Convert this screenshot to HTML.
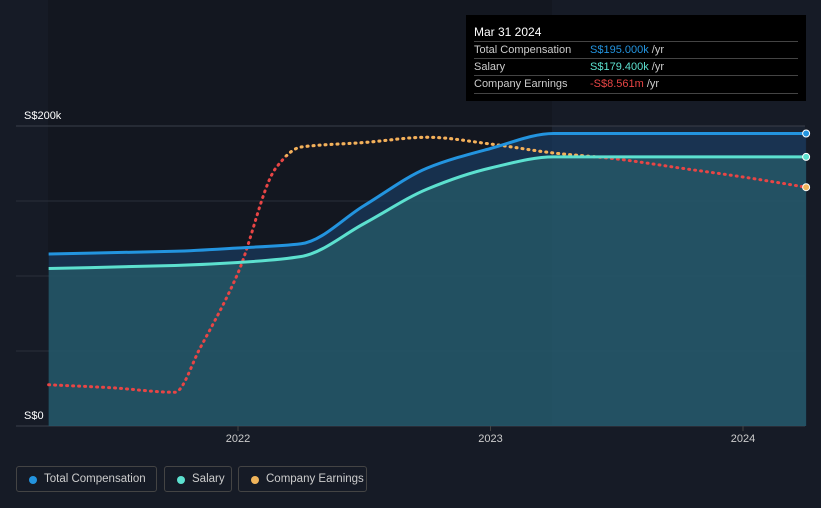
<!DOCTYPE html>
<html><head><meta charset="utf-8">
<style>
html,body{margin:0;background:#161b26;width:821px;height:508px;overflow:hidden;font-family:"Liberation Sans",sans-serif}
#tip{position:absolute;left:466px;top:15px;width:340px;height:86px;background:#000;color:#ccc;font-size:11px}
#tip .h{position:absolute;left:8px;top:10px;color:#fff;font-size:12px}
#tip .r{position:absolute;left:8px;width:324px;border-top:1px solid #444;height:17px;line-height:17px}
#tip .r span.v{position:absolute;left:116px}
.leg{position:absolute;top:466px;height:26px;border:1px solid #444;border-radius:3px;color:#ccc;font-size:11.5px;line-height:25px;box-sizing:border-box;white-space:nowrap}
.leg i{position:absolute;left:12px;top:9px;width:8px;height:8px;border-radius:50%}
.leg span{position:absolute;left:27px;white-space:nowrap}
</style></head><body>
<svg id="chart" width="821" height="508" style="position:absolute;left:0;top:0">
<rect x="48" y="0" width="504" height="426" fill="#131720"/>
<rect x="552" y="126" width="253" height="300" fill="#1a2230"/>
<g id="grid"></g><g id="areas"></g><g id="lines"></g>
<text x="24" y="119" fill="#fff" font-size="11">S$200k</text>
<text x="24" y="419" fill="#fff" font-size="11">S$0</text>
<g id="xt"></g>
</svg>
<div id="tip">
<div class="h">Mar 31 2024</div>
<div class="r" style="top:26px">Total Compensation<span class="v" style="color:#2394df">S$195.000k <span style="color:#ccc">/yr</span></span></div>
<div class="r" style="top:43px">Salary<span class="v" style="color:#5ce0cf">S$179.400k <span style="color:#ccc">/yr</span></span></div>
<div class="r" style="top:60px;border-bottom:1px solid #444">Company Earnings<span class="v" style="color:#e84545">-S$8.561m <span style="color:#ccc">/yr</span></span></div>
</div>
<div class="leg" style="left:16px;width:141px"><i style="background:#2394df"></i><span>Total Compensation</span></div>
<div class="leg" style="left:164px;width:68px"><i style="background:#5ce0cf"></i><span>Salary</span></div>
<div class="leg" style="left:238px;width:129px"><i style="background:#f0b45a"></i><span>Company Earnings</span></div>
<script>
const compT=[2021.25,2021.75,2022,2022.25,2022.5,2022.75,2023,2023.25,2024.25];
const totalComp=[114.7,116.5,118.7,121.5,147,172,185,195,195];
const salary=[105,107,109,113,135,158,172,179.4,179.4];
const earnT=[2021.25,2021.5,2021.75,2021.85,2022,2022.15,2022.25,2022.5,2022.75,2023,2023.25,2023.5,2023.75,2024,2024.25];
const earnings=[-34.9,-35.3,-35.9,-30,-20,-6,-3.2,-2.6,-1.9,-2.8,-4,-4.8,-6,-7.2,-8.56];
const xTicks=[2022,2023,2024];
const yTicks=[0,50,100,150,200];
const X=t=>238+(t-2022)*252.5;
const Y=v=>426-v*1.5;
const YE=v=>426-(v+40.4)*7.5;
const NS='http://www.w3.org/2000/svg';
function mk(tag,attrs,parent){const e=document.createElementNS(NS,tag);for(const k in attrs)e.setAttribute(k,attrs[k]);document.getElementById(parent).appendChild(e);return e;}
function path(xs,ys){const n=xs.length,d=[],m=[];for(let i=0;i<n-1;i++)d.push((ys[i+1]-ys[i])/(xs[i+1]-xs[i]));
for(let i=0;i<n;i++){if(i==0)m.push(d[0]);else if(i==n-1)m.push(d[n-2]);else m.push(d[i-1]*d[i]<=0?0:2/(1/d[i-1]+1/d[i]));}
let s='M'+xs[0]+','+ys[0];for(let i=0;i<n-1;i++){const h=(xs[i+1]-xs[i])/3;s+='C'+(xs[i]+h)+','+(ys[i]+m[i]*h)+' '+(xs[i+1]-h)+','+(ys[i+1]-m[i+1]*h)+' '+xs[i+1]+','+ys[i+1];}return s;}
yTicks.forEach(v=>{const g=mk('line',{x1:16,x2:805,y1:Y(v),y2:Y(v),stroke:v==0||v==200?'#3a3f4a':'#2a2f3a','stroke-width':1},'grid');

});
xTicks.forEach(t=>{const tk=mk('line',{x1:X(t),x2:X(t),y1:426,y2:431,stroke:'#444'},'xt');


const tx=mk('text',{x:X(t),y:442,fill:'#ccc','font-size':11,'text-anchor':'middle'},'xt');tx.textContent=t;

});
const cx=compT.map(X);
const tp=path(cx,totalComp.map(Y)),sp=path(cx,salary.map(Y));
const a1=mk('path',{d:tp+'L'+cx[cx.length-1]+',426L'+cx[0]+',426Z',fill:'#1a3a5c','fill-opacity':0.75},'areas');


const a2=mk('path',{d:sp+'L'+cx[cx.length-1]+',426L'+cx[0]+',426Z',fill:'#2a6670','fill-opacity':0.6},'areas');


const ex=earnT.map(X),ey=earnings.map(YE);
const ep=mk('path',{d:path(ex,ey),fill:'none',stroke:'#e84545','stroke-width':3,'stroke-dasharray':'1 5','stroke-linecap':'round'},'lines');


const clip=mk('clipPath',{id:'oc'},'lines');const cr=document.createElementNS(NS,'rect');cr.setAttribute('x',0);cr.setAttribute('y',0);cr.setAttribute('width',821);cr.setAttribute('height',YE(-4.5));clip.appendChild(cr);
const ep2=mk('path',{d:path(ex,ey),fill:'none',stroke:'#f0b45a','stroke-width':3,'stroke-dasharray':'1 5','stroke-linecap':'round','clip-path':'url(#oc)'},'lines');


const l1=mk('path',{d:tp,fill:'none',stroke:'#2394df','stroke-width':3},'lines');


const l2=mk('path',{d:sp,fill:'none',stroke:'#5ce0cf','stroke-width':3},'lines');


[[totalComp[totalComp.length-1],Y,'#2394df'],[salary[salary.length-1],Y,'#5ce0cf'],[earnings[earnings.length-1],YE,'#f0b45a']].forEach(([v,f,c])=>{
const d=mk('circle',{cx:X(compT[compT.length-1]),cy:f(v),r:3.5,fill:c,stroke:'#fff','stroke-width':1},'lines');

});
</script>
</body></html>
